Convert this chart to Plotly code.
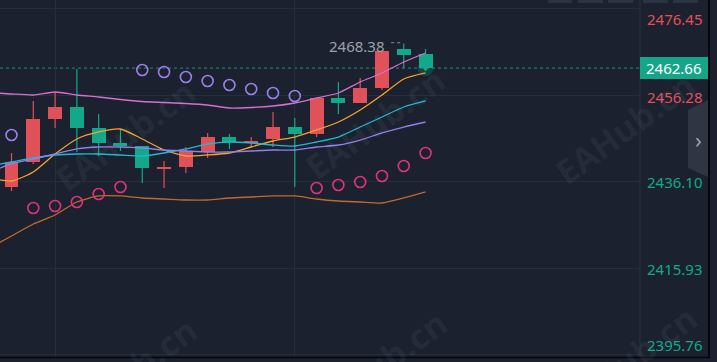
import plotly.graph_objects as go

# ---------------- data ----------------
idx = list(range(20))
opens  = [2434.93, 2440.76, 2450.79, 2453.59, 2448.69, 2445.19, 2444.49, 2439.36, 2439.60, 2443.10,
          2446.59, 2445.19, 2446.13, 2448.93, 2447.29, 2455.69, 2454.52, 2458.02, 2467.11, 2465.95]
highs  = [2442.86, 2454.99, 2457.09, 2462.45, 2451.96, 2448.46, 2444.49, 2441.00, 2444.26, 2447.53,
          2447.29, 2446.59, 2452.42, 2451.02, 2455.69, 2459.42, 2460.35, 2466.88, 2468.38, 2467.11]
lows   = [2434.00, 2440.30, 2448.69, 2443.10, 2442.16, 2443.33, 2435.87, 2434.70, 2438.20, 2441.70,
          2443.80, 2444.26, 2444.26, 2434.93, 2446.59, 2451.96, 2454.52, 2457.55, 2462.66, 2462.50]
closes = [2440.76, 2450.79, 2453.59, 2448.69, 2445.19, 2444.49, 2439.36, 2439.60, 2443.33, 2446.59,
          2445.43, 2445.66, 2448.93, 2447.29, 2455.69, 2454.52, 2458.02, 2466.65, 2465.71, 2462.66]

line_x = list(range(-1, 20))
band_upper = [2456.97, 2456.62, 2456.39, 2457.09, 2456.39, 2455.92, 2455.34, 2454.87, 2454.64, 2454.40, 2454.05,
              2453.36, 2453.47, 2453.82, 2454.52, 2455.69, 2456.85, 2459.42, 2461.52, 2464.08, 2466.18]
ma_fast = [2437.03, 2436.33, 2438.43, 2442.63, 2446.13, 2447.76, 2448.46, 2446.13, 2443.56, 2442.16, 2442.40,
           2442.86, 2444.26, 2445.66, 2446.59, 2448.23, 2450.09, 2452.89, 2456.39, 2460.12, 2461.52]
ma_mid = [2439.83, 2440.76, 2441.70, 2442.40, 2442.63, 2442.63, 2442.40, 2442.16, 2442.86, 2443.80, 2444.96,
          2445.43, 2445.19, 2444.73, 2444.49, 2445.43, 2446.59, 2448.92, 2451.26, 2453.59, 2454.99]
ma_slow = [2438.43, 2440.30, 2441.46, 2442.63, 2443.80, 2444.26, 2444.26, 2444.03, 2443.56, 2443.33, 2443.10,
           2443.10, 2443.33, 2443.56, 2443.56, 2444.26, 2444.73, 2445.89, 2447.53, 2448.92, 2450.09]
band_lower = [2420.71, 2423.51, 2426.31, 2428.41, 2431.44, 2432.84, 2432.84, 2432.37, 2432.14, 2431.90, 2431.90,
              2432.37, 2432.60, 2432.84, 2432.84, 2432.14, 2431.67, 2431.44, 2431.20, 2432.37, 2433.77]

sar_up_x = [0, 6, 7, 8, 9, 10, 11, 12, 13]
sar_up_y = [2447.06, 2462.22, 2461.75, 2460.58, 2459.65, 2458.72, 2457.79, 2456.85, 2456.15]
sar_dn_x = [1, 2, 3, 4, 5, 14, 15, 16, 17, 18, 19]
sar_dn_y = [2430.04, 2430.50, 2431.44, 2433.30, 2434.93, 2434.70, 2435.40, 2436.10, 2437.50, 2439.83, 2442.86]

tick_vals = [2476.45, 2456.28, 2436.10, 2415.93, 2395.76]
tick_labels = ["2476.45", "2456.28", "2436.10", "2415.93", "2395.76"]
last_price = 2462.66
max_high_label = "2468.38"

# ---------------- style ----------------
BG = "#1b212e"
GRID = "#262d3b"
RED = "#e0515a"
GREEN = "#12a98b"
FONT = "Noto Sans"

W, H = 717, 362
PL_W, PL_H = 640, 357


def px(x):
    return x / PL_W


def py(y):
    return 1 - y / PL_H


fig = go.Figure()

# wicks
for color, cond in ((RED, lambda o, c: c >= o), (GREEN, lambda o, c: c < o)):
    wx, wy = [], []
    for i, o, h, l, c in zip(idx, opens, highs, lows, closes):
        if cond(o, c):
            wx += [i, i, None]
            wy += [l, h, None]
    fig.add_trace(go.Scatter(x=wx, y=wy, mode="lines", line=dict(color=color, width=1.2),
                             hoverinfo="skip", showlegend=False))

# bodies
for color, cond in ((RED, lambda o, c: c >= o), (GREEN, lambda o, c: c < o)):
    bx, by, bb = [], [], []
    for i, o, c in zip(idx, opens, closes):
        if cond(o, c):
            bx.append(i)
            by.append(max(abs(c - o), 0.25))
            bb.append(min(o, c))
    fig.add_trace(go.Bar(x=bx, y=by, base=bb, width=0.64, marker=dict(color=color, line=dict(width=0)),
                         hoverinfo="skip", showlegend=False))

# current candle marker
fig.add_trace(go.Scatter(x=[idx[-1]], y=[last_price], mode="markers",
                         marker=dict(symbol="circle", size=16, color="rgba(18,169,139,0.25)"),
                         hoverinfo="skip", showlegend=False))
fig.add_trace(go.Scatter(x=[idx[-1]], y=[closes[-1] + 0.6], mode="markers",
                         marker=dict(symbol="triangle-down", size=12, color=GREEN),
                         hoverinfo="skip", showlegend=False))

# indicator lines
for ys, col in ((band_upper, "#d76fd0"), (ma_fast, "#f5a32a"), (ma_mid, "#1fb8d4"),
                (ma_slow, "#9080ee"), (band_lower, "#c06a30")):
    fig.add_trace(go.Scatter(x=line_x, y=ys, mode="lines",
                             line=dict(color=col, width=1.3, shape="spline", smoothing=0.6),
                             hoverinfo="skip", showlegend=False))

# SAR dots
fig.add_trace(go.Scatter(x=sar_up_x, y=sar_up_y, mode="markers",
                         marker=dict(symbol="circle-open", size=11, color="#9a80e8", line=dict(width=1.6)),
                         hoverinfo="skip", showlegend=False))
fig.add_trace(go.Scatter(x=sar_dn_x, y=sar_dn_y, mode="markers",
                         marker=dict(symbol="circle-open", size=11, color="#e0337e", line=dict(width=1.6)),
                         hoverinfo="skip", showlegend=False))

shapes = []
annotations = []

# price dashed line
shapes.append(dict(type="line", xref="paper", yref="y", x0=0, x1=1, y0=last_price, y1=last_price,
                   line=dict(color="#1b8f7b", width=1, dash="3px,3px"), layer="below"))
# axis separator
shapes.append(dict(type="line", xref="paper", yref="paper", x0=1, x1=1, y0=0, y1=1,
                   line=dict(color="#2a3241", width=1)))
# price label box
shapes.append(dict(type="rect", xref="paper", yref="paper", x0=px(640), x1=px(708), y0=py(79), y1=py(57),
                   fillcolor="#13a689", line=dict(width=0)))
annotations.append(dict(xref="paper", yref="paper", x=px(674), y=py(68), text=f"{last_price:.2f}",
                        showarrow=False, font=dict(family=FONT, size=15, color="#ffffff"),
                        xanchor="center", yanchor="middle"))

# right axis labels
label_y_px = [19, 97, 182, 269, 345]
for v, t, ypx in zip(tick_vals, tick_labels, label_y_px):
    col = RED if v > 2450 else GREEN
    annotations.append(dict(xref="paper", yref="paper", x=px(645), y=py(ypx), text=t, showarrow=False,
                            font=dict(family=FONT, size=15, color=col), xanchor="left", yanchor="middle"))

# max high label
annotations.append(dict(xref="x", yref="y", x=17.25, y=float(max_high_label) - 0.6, text=max_high_label,
                        showarrow=False, font=dict(family=FONT, size=15, color="#9ba1ab"),
                        xanchor="right", yanchor="middle"))
shapes.append(dict(type="line", xref="x", yref="y", x0=17.42, x1=17.95, y0=float(max_high_label) + 0.2,
                   y1=float(max_high_label) + 0.2, line=dict(color="#8a909a", width=1, dash="dot")))

# side tab with chevron
shapes.append(dict(type="path", xref="paper", yref="paper",
                   path=f"M {px(688)},{py(110)} L {px(708)},{py(100)} L {px(708)},{py(177)} L {px(688)},{py(168)} Z",
                   fillcolor="#2f3542", line=dict(width=0)))
annotations.append(dict(xref="paper", yref="paper", x=px(698), y=py(139), text="›", showarrow=False,
                        font=dict(family=FONT, size=22, color="#9aa0ab"), xanchor="center", yanchor="middle"))

# top buttons
for x0, x1 in ((548, 572), (578, 603), (608, 633), (643, 668), (673, 698)):
    shapes.append(dict(type="rect", xref="paper", yref="paper", x0=px(x0), x1=px(x1), y0=py(3), y1=py(-10),
                       fillcolor="#2c3341", line=dict(width=0)))

# borders
shapes.append(dict(type="line", xref="paper", yref="paper", x0=px(709), x1=px(709), y0=py(357), y1=py(-5),
                   line=dict(color="#05070a", width=2)))
shapes.append(dict(type="line", xref="paper", yref="paper", x0=0, x1=px(710), y0=py(357.5), y1=py(357.5),
                   line=dict(color="#05070a", width=1.5)))

# watermarks
for cx, cy in ((125, 135), (375, 123), (625, 128), (127, 373), (377, 366), (627, 361)):
    annotations.append(dict(xref="paper", yref="paper", x=px(cx), y=py(cy), text="<b>EAHub.cn</b>",
                            showarrow=False, textangle=-36,
                            font=dict(family="Open Sans", size=34, color="rgba(200,210,230,0.07)"),
                            xanchor="center", yanchor="middle"))

fig.update_layout(
    width=W, height=H,
    margin=dict(l=0, r=W - PL_W, t=0, b=H - PL_H),
    paper_bgcolor=BG, plot_bgcolor=BG,
    barmode="overlay", bargap=0,
    showlegend=False,
    shapes=shapes, annotations=annotations,
    xaxis=dict(range=[-0.528, 28.84], tickvals=[2, 13], showticklabels=False, showgrid=True,
               gridcolor=GRID, gridwidth=1, zeroline=False, showline=False, fixedrange=True),
    yaxis=dict(range=[2395.29, 2478.54], tickvals=tick_vals, showticklabels=False, showgrid=True,
               gridcolor=GRID, gridwidth=1, zeroline=False, showline=False, side="right", fixedrange=True),
    font=dict(family=FONT),
)

fig.write_html("out.html", config={"displayModeBar": False},
               post_script="document.body.style.margin='0';document.body.style.background='" + BG + "';")
